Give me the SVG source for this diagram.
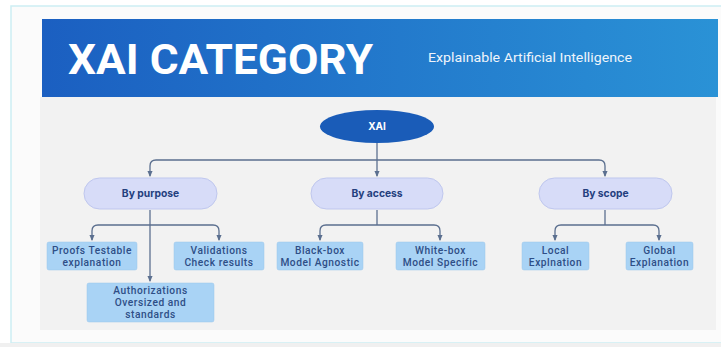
<svg xmlns="http://www.w3.org/2000/svg" width="721" height="347" viewBox="0 0 721 347">
<defs>
<linearGradient id="hdr" x1="0" y1="0" x2="1" y2="0">
<stop offset="0" stop-color="#1b5fc1"/>
<stop offset="1" stop-color="#2a92d6"/>
</linearGradient>
<marker id="arr" viewBox="0 0 6 6" refX="5" refY="3" markerWidth="5" markerHeight="5" orient="auto">
<path d="M0,0.5 L6,3 L0,5.5 z" fill="#5b6f8f"/>
</marker>
<style>
.pill{fill:#d7dcf8;stroke:#bfc7ee;stroke-width:1}
.pt{font-family:Inter,"Liberation Sans",Arial,sans-serif;font-weight:bold;font-size:10.3px;fill:#243f7e;text-anchor:middle}
.box{fill:#a9d3f5;stroke:#98c4ea;stroke-width:0.5}
.bt{font-family:Roboto,"Liberation Sans",Arial,sans-serif;font-weight:500;font-size:10.2px;letter-spacing:0.55px;fill:#2e4e86;text-anchor:middle}
.cn{fill:none;stroke:#5b6f8f;stroke-width:1.3;marker-end:url(#arr)}
.cl{fill:none;stroke:#5b6f8f;stroke-width:1.3}
</style>
</defs>
<rect x="0" y="0" width="721" height="347" fill="#ffffff"/>
<rect x="11" y="6" width="714" height="337" fill="#fbfbfb" stroke="#cdeef3" stroke-width="1.5"/>
<rect x="0" y="343" width="721" height="4" fill="#f0f0f0"/>
<rect x="40" y="97" width="676" height="233" fill="#f2f2f2"/>
<rect x="42" y="19" width="676" height="78" fill="url(#hdr)"/>
<g id="title">
<text x="68" y="74" font-family="Roboto,'Liberation Sans',sans-serif" font-weight="bold" font-size="43" fill="#ffffff" textLength="305" lengthAdjust="spacingAndGlyphs">XAI CATEGORY</text>
<text x="428" y="62" font-family="Roboto,'Liberation Sans',sans-serif" font-size="13" fill="#eef4fb" textLength="204" lengthAdjust="spacingAndGlyphs">Explainable Artificial Intelligence</text>
</g>
<g id="connectors">
<path class="cn" d="M377,143 V176"/>
<path class="cn" d="M377,160 H156 Q150,160 150,166 V176"/>
<path class="cn" d="M377,160 H599 Q605,160 605,166 V176"/>
<path class="cn" d="M150,210 V281"/>
<path class="cn" d="M150,225 H98 Q92,225 92,231 V240"/>
<path class="cn" d="M150,225 H213 Q219,225 219,231 V240"/>
<path class="cl" d="M377,210 V225"/>
<path class="cn" d="M377,225 H326 Q320,225 320,231 V240"/>
<path class="cn" d="M377,225 H434 Q440,225 440,231 V240"/>
<path class="cl" d="M605,210 V225"/>
<path class="cn" d="M605,225 H561 Q555,225 555,231 V240"/>
<path class="cn" d="M605,225 H653 Q659,225 659,231 V240"/>
</g>
<g id="xai">
<ellipse cx="377" cy="126.5" rx="57" ry="16.5" fill="#1a5cb8"/>
<text x="377" y="130" font-family="Inter,'Liberation Sans',Arial,sans-serif" font-weight="bold" font-size="10" fill="#ffffff" text-anchor="middle">XAI</text>
</g>
<g id="by-purpose">
<rect class="pill" x="84" y="178" width="133" height="31" rx="15.5"/>
<text class="pt" x="150.5" y="197">By purpose</text>
</g>
<g id="by-access">
<rect class="pill" x="311" y="178" width="132" height="31" rx="15.5"/>
<text class="pt" x="377" y="197">By access</text>
</g>
<g id="by-scope">
<rect class="pill" x="539" y="178" width="133" height="31" rx="15.5"/>
<text class="pt" x="605.5" y="197">By scope</text>
</g>
<g id="proofs">
<rect class="box" x="47" y="242" width="90" height="28" rx="2"/>
<text class="bt" x="92" y="254">Proofs Testable</text>
<text class="bt" x="92" y="266">explanation</text>
</g>
<g id="validations">
<rect class="box" x="174" y="242" width="90" height="28" rx="2"/>
<text class="bt" x="219" y="254">Validations</text>
<text class="bt" x="219" y="266">Check results</text>
</g>
<g id="authorizations">
<rect class="box" x="87" y="283" width="127" height="39" rx="2"/>
<text class="bt" x="150.5" y="294">Authorizations</text>
<text class="bt" x="150.5" y="306">Oversized and</text>
<text class="bt" x="150.5" y="318">standards</text>
</g>
<g id="black-box">
<rect class="box" x="277" y="242" width="86" height="28" rx="2"/>
<text class="bt" x="320" y="254">Black-box</text>
<text class="bt" x="320" y="266">Model Agnostic</text>
</g>
<g id="white-box">
<rect class="box" x="396" y="242" width="89" height="28" rx="2"/>
<text class="bt" x="440.5" y="254">White-box</text>
<text class="bt" x="440.5" y="266">Model Specific</text>
</g>
<g id="local">
<rect class="box" x="522" y="242" width="67" height="28" rx="2"/>
<text class="bt" x="555.5" y="254">Local</text>
<text class="bt" x="555.5" y="266">Explnation</text>
</g>
<g id="global">
<rect class="box" x="626" y="242" width="67" height="28" rx="2"/>
<text class="bt" x="659.5" y="254">Global</text>
<text class="bt" x="659.5" y="266">Explanation</text>
</g>
</svg>
